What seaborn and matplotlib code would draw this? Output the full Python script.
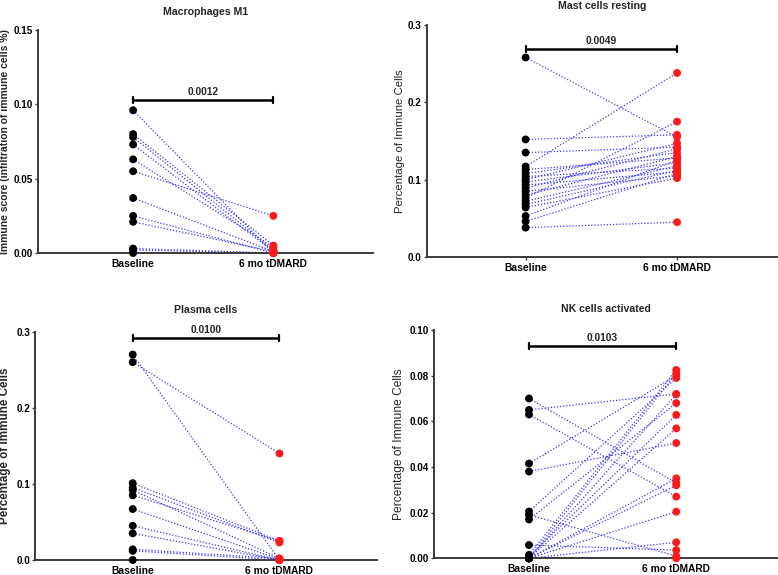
import numpy as np
import pandas as pd
import matplotlib
matplotlib.use("Agg")
import matplotlib.pyplot as plt
import seaborn as sns

sns.set_style("ticks")
plt.rcParams['font.family'] = ['Liberation Sans', 'DejaVu Sans']

groups = ["Baseline", "6 mo tDMARD"]

# Panel 1: Macrophages M1
m1_base = [0.096, 0.080, 0.078, 0.073, 0.063, 0.055, 0.037, 0.025, 0.021, 0.003, 0.002, 0.000]
m1_post = [0.000, 0.005, 0.002, 0.001, 0.004, 0.025, 0.001, 0.000, 0.001, 0.000, 0.000, 0.000]

# Panel 2: Mast cells resting
mast_base = [0.258, 0.152, 0.135, 0.117, 0.113, 0.108, 0.104, 0.100, 0.097, 0.093,
             0.089, 0.085, 0.080, 0.076, 0.072, 0.068, 0.064, 0.053, 0.046, 0.038]
mast_post = [0.155, 0.158, 0.142, 0.238, 0.128, 0.135, 0.115, 0.147, 0.122, 0.110,
             0.140, 0.105, 0.130, 0.175, 0.118, 0.112, 0.102, 0.125, 0.108, 0.045]

# Panel 3: Plasma cells
plasma_base = [0.270, 0.260, 0.101, 0.095, 0.092, 0.085, 0.067, 0.045, 0.035, 0.014, 0.012, 0.000]
plasma_post = [0.000, 0.140, 0.025, 0.023, 0.002, 0.025, 0.001, 0.000, 0.000, 0.002, 0.000, 0.000]

# Panel 4: NK cells activated
nk_base = [0.070, 0.065, 0.063, 0.0415, 0.038, 0.0205, 0.019, 0.017, 0.0058, 0.0015,
           0.0007, 0.0, 0.0, 0.0, 0.0, 0.0, 0.0, 0.0, 0.0]
nk_post = [0.033, 0.072, 0.027, 0.080, 0.0505, 0.079, 0.001, 0.068, 0.0036, 0.0825,
           0.0628, 0.081, 0.0569, 0.035, 0.032, 0.0204, 0.007, 0.0, 0.0718]

titles = ["Macrophages M1", "Mast cells resting", "Plasma cells", "NK cells activated"]
ylabels = ["Immune score (infiltration of immune cells %)", "Percentage of Immune Cells",
           "Percentage of Immune Cells", "Percentage of Immune Cells"]
ylabel_bold = [True, False, True, False]
pvalues = ["0.0012", "0.0049", "0.0100", "0.0103"]
bracket_y = [0.103, 0.269, 0.292, 0.093]
ylims = [0.15, 0.3, 0.3, 0.10]
yticks = [[0.00, 0.05, 0.10, 0.15], [0.0, 0.1, 0.2, 0.3], [0.0, 0.1, 0.2, 0.3],
          [0.00, 0.02, 0.04, 0.06, 0.08, 0.10]]
ytickfmt = ["{:.2f}", "{:.1f}", "{:.1f}", "{:.2f}"]
data = [(m1_base, m1_post), (mast_base, mast_post), (plasma_base, plasma_post), (nk_base, nk_post)]

W, H = 778, 575
# layout (pixels): axes boxes left, right, top, bottom
boxes = [(37.7, 373, 30, 253), (426.7, 777, 25, 257), (35, 376.7, 331.7, 560), (434, 777, 330, 558.3)]
xlims = [(-0.68, 1.71), (-0.653, 1.66), (-0.666, 1.663), (-0.645, 1.684)]
ylab_center_px = [5, 400, 5, 399]        # x center of y-label text
ylab_len_px = [226, 145, 157, 153]       # length of y-label text
title_pad = [10.8, 11.3, 13.2, 12.7]

fig = plt.figure(figsize=(W / 100, H / 100), dpi=100)
axis_col = "#3a3a3a"
axes = []

for i in range(4):
    l, r, t, b = boxes[i]
    ax = fig.add_axes([l / W, (H - b) / H, (r - l) / W, (b - t) / H])
    axes.append(ax)
    base, post = data[i]
    n = len(base)
    df = pd.DataFrame({
        "subject": list(range(n)) * 2,
        "pos": [0] * n + [1] * n,
        "group": [groups[0]] * n + [groups[1]] * n,
        "value": list(base) + list(post),
    })
    sns.lineplot(data=df, x="pos", y="value", units="subject", estimator=None,
                 color="#3a3aff", linestyle=(0, (1, 1.5)), linewidth=0.9, ax=ax,
                 legend=False, zorder=2)
    sns.scatterplot(data=df, x="pos", y="value", hue="group",
                    palette={groups[0]: "black", groups[1]: "#ff1a1a"},
                    s=32, edgecolor="none", ax=ax, legend=False, zorder=3, clip_on=False)
    # significance bracket
    yb = bracket_y[i]
    cap = ylims[i] * 0.013
    ax.plot([0, 1], [yb, yb], color="black", lw=1.8, solid_capstyle="butt", clip_on=False)
    ax.plot([0, 0], [yb - cap, yb + cap], color="black", lw=1.6, clip_on=False)
    ax.plot([1, 1], [yb - cap, yb + cap], color="black", lw=1.6, clip_on=False)
    ax.text(0.5, yb + ylims[i] * 0.014, pvalues[i], ha="center", va="bottom",
            fontsize=7.4, fontweight="bold")

    ax.set_xlim(*xlims[i])
    ax.set_ylim(0, ylims[i])
    ax.set_xticks([0, 1])
    ax.set_xticklabels(groups, fontsize=7.4, fontweight="bold")
    ax.set_yticks(yticks[i])
    ax.set_yticklabels([ytickfmt[i].format(v) for v in yticks[i]], fontsize=7.1, fontweight="bold")
    ax.set_xlabel("")
    ax.set_ylabel(ylabels[i], fontsize=8, fontweight="bold" if ylabel_bold[i] else "normal")
    ax.set_title(titles[i], fontsize=7.6, fontweight="bold", pad=title_pad[i])
    sns.despine(ax=ax)
    for sp in ["left", "bottom"]:
        ax.spines[sp].set_color(axis_col)
        ax.spines[sp].set_linewidth(1.4)
    ax.tick_params(axis="both", colors=axis_col, width=1.0, length=2.5, pad=1, labelcolor="black")
    ax.tick_params(axis="x", pad=1.5)
    ax.patch.set_alpha(0)

# fit y-label sizes and positions to the reference layout
fig.canvas.draw()
renderer = fig.canvas.get_renderer()
for i, ax in enumerate(axes):
    lab = ax.yaxis.label
    ext = lab.get_window_extent(renderer)
    lab.set_fontsize(8 * ylab_len_px[i] / ext.height)
fig.canvas.draw()
for i, ax in enumerate(axes):
    lab = ax.yaxis.label
    ext = lab.get_window_extent(renderer)
    half_w = ext.width / 2.0
    l, r, t, b = boxes[i]
    right_px = ylab_center_px[i] + half_w
    ax.yaxis.set_label_coords((right_px - l) / (r - l), 0.5)

fig.savefig("out.png", dpi=100)
